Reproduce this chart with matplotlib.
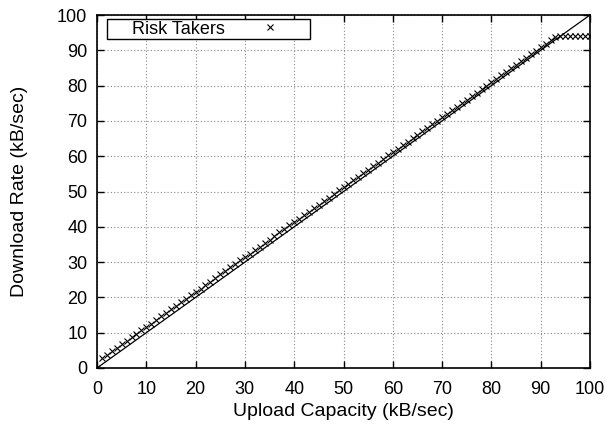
import matplotlib
matplotlib.use("Agg")
import matplotlib.pyplot as plt
from matplotlib.patches import Rectangle

plt.rcParams['font.family'] = ['Liberation Sans', 'DejaVu Sans']

upload = list(range(0, 101))
download = [0.0,
    2.7, 3.7, 4.7, 5.7, 6.7, 7.7, 8.7, 9.7, 10.7, 11.6,
    12.6, 13.6, 14.6, 15.6, 16.6, 17.6, 18.6, 19.6, 20.6, 21.5,
    22.5, 23.5, 24.5, 25.5, 26.5, 27.5, 28.5, 29.5, 30.5, 31.4,
    32.4, 33.4, 34.4, 35.4, 36.4, 37.4, 38.4, 39.4, 40.4, 41.3,
    42.3, 43.3, 44.3, 45.3, 46.3, 47.3, 48.3, 49.3, 50.3, 51.2,
    52.2, 53.2, 54.2, 55.2, 56.2, 57.2, 58.2, 59.2, 60.2, 61.1,
    62.1, 63.1, 64.1, 65.1, 66.1, 67.1, 68.1, 69.1, 70.1, 71.0,
    72.0, 73.0, 74.0, 75.0, 76.0, 77.0, 78.0, 79.0, 80.0, 80.9,
    81.9, 82.9, 83.9, 84.9, 85.9, 86.9, 87.9, 88.9, 89.9, 90.8,
    91.8, 92.8, 93.8, 94.0, 94.0, 94.0, 94.0, 94.0, 94.0, 94.0,
]
diag = [0, 100]
series_label = "Risk Takers"
xticks = list(range(0, 101, 10))
yticks = list(range(0, 101, 10))

fig = plt.figure(figsize=(6.05, 4.25), dpi=100)
ax = fig.add_axes([97/605, 1-368/425, (590-97)/605, (368-15)/425])

ax.plot(diag, diag, color='black', lw=0.9, zorder=2)
ax.plot(upload, download, linestyle='none', marker='x', color='black',
        markersize=4.8, markeredgewidth=0.8, label=series_label, zorder=3)

ax.set_xlim(0, 100)
ax.set_ylim(0, 100)
ax.set_xticks(xticks)
ax.set_yticks(yticks)
ax.grid(True, color='#888888', linestyle=(0, (1, 2)), linewidth=0.8)
ax.tick_params(direction='in', top=True, right=True, length=5, width=1,
               labelsize=13, pad=7)
ax.tick_params(axis='x', pad=9)
for s in ax.spines.values():
    s.set_linewidth(1.2)
ax.set_xlabel("Upload Capacity (kB/sec)", fontsize=14, labelpad=4)
ax.set_ylabel("Download Rate (kB/sec)", fontsize=14, labelpad=21)

# legend frame (gnuplot-style key box)
box = Rectangle(((107-97)/493, (368-39)/353), 203/493, 20/353,
                transform=ax.transAxes, facecolor='white', edgecolor='black',
                linewidth=1.0, zorder=4)
ax.add_patch(box)
leg = ax.legend(loc='center left', bbox_to_anchor=((132-97)/493, (368-29)/353),
                markerfirst=False, fontsize=13, frameon=False,
                borderaxespad=0, borderpad=0, handlelength=2,
                handletextpad=1.5)
leg.set_zorder(5)

fig.savefig("out.png", dpi=100)
